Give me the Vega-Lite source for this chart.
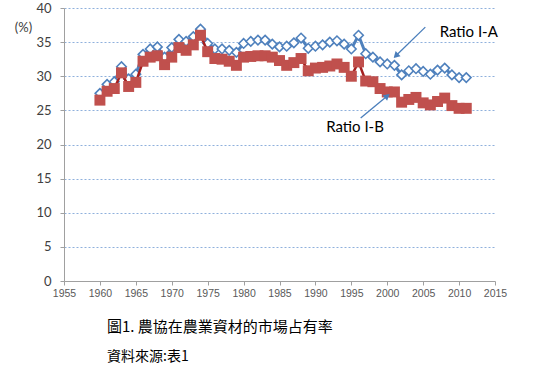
{
  "$schema": "https://vega.github.io/schema/vega-lite/v6.json",
  "width": 431,
  "height": 273,
  "autosize": {"type": "none"},
  "padding": {"left": 64, "top": 8, "right": 56, "bottom": 95},
  "background": "white",
  "config": {
    "view": {"stroke": null},
    "axisX": {
      "tickCount": 12,
      "format": "d",
      "labelOverlap": false,
      "labelFlush": false,
      "grid": false,
      "domainColor": "#a0a0a0",
      "tickColor": "#a0a0a0",
      "tickSize": 4,
      "labelPadding": 3,
      "labelFont": "Liberation Sans",
      "labelFontSize": 10.5,
      "labelColor": "#595959"
    },
    "axisY": {
      "tickCount": 8,
      "labelOverlap": false,
      "labelFlush": false,
      "grid": true,
      "gridColor": "#8fb0dc",
      "gridDash": [2, 2],
      "gridWidth": 1,
      "domainColor": "#a0a0a0",
      "tickColor": "#a0a0a0",
      "tickSize": 4,
      "labelPadding": 9,
      "labelFont": "Lato",
      "labelFontSize": 13,
      "labelColor": "#404040"
    }
  },
  "title": {
    "text": "圖1.  農協在農業資材的市場占有率",
    "subtitle": "資料來源:表1",
    "orient": "bottom",
    "anchor": "start",
    "frame": "group",
    "dx": 43,
    "offset": 21,
    "font": "Noto Sans CJK TC",
    "fontSize": 15,
    "fontWeight": "normal",
    "color": "#000000",
    "subtitleFont": "Noto Sans CJK TC",
    "subtitleFontSize": 14,
    "subtitleColor": "#000000",
    "subtitlePadding": 15
  },
  "datasets": {
    "ratios": [
      {"year": 1960, "A": 27.5, "B": 26.5},
      {"year": 1961, "A": 28.8, "B": 27.8},
      {"year": 1962, "A": 29.2, "B": 28.2},
      {"year": 1963, "A": 31.4, "B": 30.5},
      {"year": 1964, "A": 29.6, "B": 28.5},
      {"year": 1965, "A": 30.3, "B": 29.1},
      {"year": 1966, "A": 33.2, "B": 32.2},
      {"year": 1967, "A": 34.0, "B": 32.8},
      {"year": 1968, "A": 34.3, "B": 33.0},
      {"year": 1969, "A": 32.8, "B": 31.7},
      {"year": 1970, "A": 34.2, "B": 32.8},
      {"year": 1971, "A": 35.4, "B": 34.2},
      {"year": 1972, "A": 35.1, "B": 33.8},
      {"year": 1973, "A": 35.8, "B": 34.6},
      {"year": 1974, "A": 36.9, "B": 36.0},
      {"year": 1975, "A": 34.8, "B": 33.6},
      {"year": 1976, "A": 34.0, "B": 32.6},
      {"year": 1977, "A": 34.0, "B": 32.5},
      {"year": 1978, "A": 33.8, "B": 32.2},
      {"year": 1979, "A": 33.5, "B": 31.6},
      {"year": 1980, "A": 34.8, "B": 32.8},
      {"year": 1981, "A": 35.1, "B": 32.9},
      {"year": 1982, "A": 35.3, "B": 33.0},
      {"year": 1983, "A": 35.3, "B": 33.0},
      {"year": 1984, "A": 34.7, "B": 32.8},
      {"year": 1985, "A": 34.3, "B": 32.3},
      {"year": 1986, "A": 34.4, "B": 31.6},
      {"year": 1987, "A": 34.9, "B": 32.0},
      {"year": 1988, "A": 35.6, "B": 32.6},
      {"year": 1989, "A": 34.1, "B": 30.8},
      {"year": 1990, "A": 34.4, "B": 31.2},
      {"year": 1991, "A": 34.6, "B": 31.3},
      {"year": 1992, "A": 35.0, "B": 31.5},
      {"year": 1993, "A": 35.2, "B": 31.8},
      {"year": 1994, "A": 34.7, "B": 31.3},
      {"year": 1995, "A": 34.0, "B": 30.0},
      {"year": 1996, "A": 36.0, "B": 32.1},
      {"year": 1997, "A": 33.3, "B": 29.3},
      {"year": 1998, "A": 32.8, "B": 29.2},
      {"year": 1999, "A": 32.1, "B": 28.2},
      {"year": 2000, "A": 31.8, "B": 27.7},
      {"year": 2001, "A": 31.6, "B": 27.7},
      {"year": 2002, "A": 30.2, "B": 26.2},
      {"year": 2003, "A": 30.8, "B": 26.6},
      {"year": 2004, "A": 31.1, "B": 26.9},
      {"year": 2005, "A": 30.7, "B": 26.1},
      {"year": 2006, "A": 30.3, "B": 25.8},
      {"year": 2007, "A": 30.9, "B": 26.3},
      {"year": 2008, "A": 31.2, "B": 26.8},
      {"year": 2009, "A": 30.2, "B": 25.7},
      {"year": 2010, "A": 29.8, "B": 25.3},
      {"year": 2011, "A": 29.8, "B": 25.3}
    ],
    "arrowA": [{"x1": 2005.3, "y1": 37.2, "x2": 2001.2, "y2": 33.0}],
    "arrowB": [{"x1": 1996.3, "y1": 23.9, "x2": 2000.0, "y2": 27.1}],
    "labels": [
      {"x": 2007.3, "y": 36.5, "label": "Ratio I-A"},
      {"x": 1991.5, "y": 22.6, "label": "Ratio I-B"}
    ]
  },
  "layer": [
    {
      "data": {"name": "ratios"},
      "mark": {"type": "line", "color": "#4f81bd", "strokeWidth": 3},
      "encoding": {
        "x": {
          "field": "year", "type": "quantitative",
          "scale": {"domain": [1955, 2015], "nice": false, "zero": false},
          "axis": {"title": null}
        },
        "y": {
          "field": "A", "type": "quantitative",
          "scale": {"domain": [0, 40], "nice": false},
          "axis": {
            "title": "(%)",
            "titleAngle": 0,
            "titleX": -41,
            "titleY": 19,
            "titleAlign": "center",
            "titleBaseline": "middle",
            "titleFont": "Lato",
            "titleFontSize": 13,
            "titleFontWeight": "normal",
            "titleColor": "#404040"
          }
        }
      }
    },
    {
      "data": {"name": "ratios"},
      "mark": {"type": "point", "shape": "diamond", "size": 90, "filled": true, "fill": "white", "stroke": "#4f81bd", "strokeWidth": 1.6, "opacity": 1},
      "encoding": {
        "x": {"field": "year", "type": "quantitative"},
        "y": {"field": "A", "type": "quantitative"}
      }
    },
    {
      "data": {"name": "ratios"},
      "mark": {"type": "line", "color": "#a52020", "strokeWidth": 2.5},
      "encoding": {
        "x": {"field": "year", "type": "quantitative"},
        "y": {"field": "B", "type": "quantitative"}
      }
    },
    {
      "data": {"name": "ratios"},
      "mark": {"type": "point", "shape": "square", "size": 120, "filled": true, "color": "#c0504d", "opacity": 1},
      "encoding": {
        "x": {"field": "year", "type": "quantitative"},
        "y": {"field": "B", "type": "quantitative"}
      }
    },
    {
      "data": {"name": "arrowA"},
      "mark": {"type": "rule", "color": "#4a7ebb", "strokeWidth": 1.3},
      "encoding": {
        "x": {"field": "x1", "type": "quantitative"},
        "y": {"field": "y1", "type": "quantitative"},
        "x2": {"field": "x2"},
        "y2": {"field": "y2"}
      }
    },
    {
      "data": {"name": "arrowA"},
      "mark": {"type": "point", "shape": "triangle-up", "size": 50, "filled": true, "color": "#4a7ebb", "opacity": 1, "angle": 226},
      "encoding": {
        "x": {"field": "x2", "type": "quantitative"},
        "y": {"field": "y2", "type": "quantitative"}
      }
    },
    {
      "data": {"name": "arrowB"},
      "mark": {"type": "rule", "color": "#4a7ebb", "strokeWidth": 1.3},
      "encoding": {
        "x": {"field": "x1", "type": "quantitative"},
        "y": {"field": "y1", "type": "quantitative"},
        "x2": {"field": "x2"},
        "y2": {"field": "y2"}
      }
    },
    {
      "data": {"name": "arrowB"},
      "mark": {"type": "point", "shape": "triangle-up", "size": 50, "filled": true, "color": "#4a7ebb", "opacity": 1, "angle": 51},
      "encoding": {
        "x": {"field": "x2", "type": "quantitative"},
        "y": {"field": "y2", "type": "quantitative"}
      }
    },
    {
      "data": {"name": "labels"},
      "mark": {"type": "text", "align": "left", "baseline": "middle", "font": "Lato", "fontSize": 15, "color": "#000000"},
      "encoding": {
        "x": {"field": "x", "type": "quantitative"},
        "y": {"field": "y", "type": "quantitative"},
        "text": {"field": "label"}
      }
    }
  ]
}
